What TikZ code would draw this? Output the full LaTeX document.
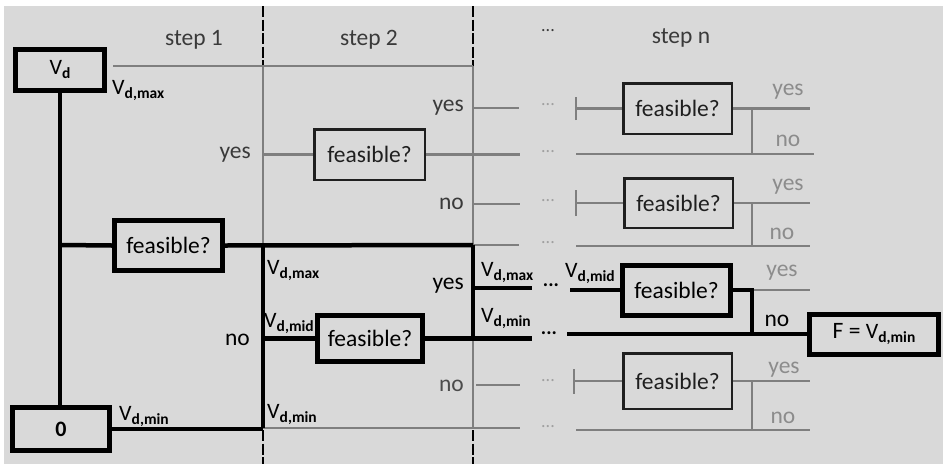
\documentclass[tikz,border=0pt]{standalone}
\usepackage{fontspec}
\setmainfont{Carlito}
\definecolor{bg}{HTML}{D9D9D9}
\definecolor{ln}{HTML}{7F7F7F}
\definecolor{lbl}{HTML}{8C8C8C}
\definecolor{dk}{HTML}{3A3A3A}
\definecolor{dotc}{HTML}{A0A0A0}
% V with a bold subscript, e.g. V_{d,max}
\newcommand{\Vs}[1]{{\fontsize{22}{24}\selectfont V}\raisebox{-4pt}{\fontsize{15.5}{16}\selectfont\bfseries #1}}
\tikzset{
  every node/.style={font=\fontsize{23.5}{26}\selectfont, inner sep=0pt},
  boldbox/.style={draw=black, line width=5pt, fill=bg, text=black},
  thinbox/.style={draw=black!88, line width=2.5pt, fill=bg, text=black!88},
  blk/.style={draw=black, line width=4.5pt},
  gl/.style={draw=ln, line width=2.5pt},
  dsh/.style={draw=black, line width=1.6pt, dash pattern=on 11pt off 2.5pt},
  hdr/.style={text=dk},
  lab/.style={text=dk, anchor=east},
  labn/.style={text=lbl},
  vlab/.style={text=black, anchor=base west},
  gdots/.style={text=dotc, font=\fontsize{18}{20}\selectfont},
  bdots/.style={text=black, font=\fontsize{20}{22}\selectfont\bfseries},
}
\begin{document}
\begin{tikzpicture}[x=1pt,y=-1pt]
\useasboundingbox (0,0) rectangle (943,464);
\fill[bg] (4,6) rectangle (943,464);

% column headers
\node[hdr] (s1) at (194,40) {step 1};
\node[hdr] (s2) at (369,40) {step 2};
\node[hdr] (sn) at (681,38) {step n};
\node[hdr, font=\fontsize{18}{20}\selectfont] (sdots) at (548,31) {...};

% value labels (drawn first so boxes may cover them)
\node[vlab] (l1) at (112,94) {\Vs{d,max}};
\node[vlab] (l2) at (119,420) {\Vs{d,min}};
\node[vlab] (l3) at (267,274) {\Vs{d,max}};
\node[vlab] (l4) at (264,327) {\Vs{d,mid}};
\node[vlab] (l5) at (267,418) {\Vs{d,min}};
\node[vlab] (l6) at (481,276) {\Vs{d,max}};
\node[vlab] (l7) at (481,322) {\Vs{d,min}};
\node[vlab] (l8) at (565,277) {\Vs{d,mid}};

% branch labels
\node[lab] (y1) at (251,155) {yes};
\node[lab] (y2) at (464,108) {yes};
\node[lab] (n2) at (464,204) {no};
\node[lab, text=black] (y3) at (464,286) {yes};
\node[lab, text=black] (n1) at (250,340) {no};
\node[lab, text=black!70] (n3) at (464,386) {no};
\node[text=black] (n4) at (777,321) {no};
\node[labn] (yn1) at (788,92) {yes};
\node[labn] (nn1) at (788,141) {no};
\node[labn] (yn2) at (788,187) {yes};
\node[labn] (nn2) at (782,234) {no};
\node[labn] (yn3) at (782,273) {yes};
\node[labn] (yn4) at (784,370) {yes};
\node[labn] (nn4) at (783,418) {no};

% boxes
\node[boldbox, minimum width=89pt, minimum height=41pt] (vd) at (60,69.5) {\Vs{d}};
\node[boldbox, minimum width=97pt, minimum height=43pt] (zero) at (61,429) {\fontsize{22}{24}\selectfont\bfseries 0};
\node[boldbox, minimum width=108pt, minimum height=50pt] (f1) at (168.5,245.5) {feasible?};
\node[thinbox, minimum width=110.5pt, minimum height=50.5pt] (f2a) at (369.5,154.5) {feasible?};
\node[boldbox, minimum width=105pt, minimum height=46pt] (f2b) at (370,338.5) {feasible?};
\node[thinbox, minimum width=108.5pt, minimum height=50.5pt] (fn1) at (677.5,108.5) {feasible?};
\node[thinbox, minimum width=108.5pt, minimum height=49.5pt] (fn2) at (678.5,203) {feasible?};
\node[boldbox, minimum width=108pt, minimum height=50pt] (fn3) at (676.5,290) {feasible?};
\node[thinbox, minimum width=108.5pt, minimum height=55.5pt] (fn4) at (677.5,381) {feasible?};
\node[boldbox, minimum width=129pt, minimum height=40pt] (F) at (874,334) {F = \Vs{d,min}};

% grid junctions
\coordinate (a8) at (263,6);   \coordinate (a9) at (473,6);
\coordinate (a1) at (263,66);  \coordinate (a2) at (473,66);
\coordinate (a3) at (263,245); \coordinate (a4) at (473,245);
\coordinate (a5) at (263,428); \coordinate (a6) at (473,428);
\coordinate (a10) at (263,464); \coordinate (a11) at (473,464);
\coordinate (b1) at (61,245);

% column separators
\draw[dsh] (a8) -- (a1);
\draw[dsh] (a9) -- (a2);
\draw[dsh] ([yshift=-2pt]a5) -- (a10);
\draw[dsh] ([yshift=-2pt]a6) -- (a11);

% grey (not taken) paths
\coordinate (t1) at (519,108);
\coordinate (t2) at (520,204);
\coordinate (t3) at (519,245);
\coordinate (t4) at (520,385);
\coordinate (t5) at (520,428);
\coordinate (r2) at (520,154.5);
\draw[gl] ([xshift=6pt]vd.east |- a1) -- (a2);
\draw[gl] (a1) -- (a3);
\draw[gl] (a2) -- (a6);
\draw[gl] (a1 |- f2a.west) -- (f2a.west);
\draw[gl] (f2a.east) -- (r2);
\draw[gl] (a2 |- t1) -- (t1);
\draw[gl] (a2 |- t2) -- (t2);
\draw[gl] (a4) -- (t3);
\draw[gl] ([xshift=3pt]a2 |- t4) -- (t4);
\draw[gl] (a5) -- (t5);

% grey dots
\foreach \yy in {108,154.5,204,246,384,430}
  \node[gdots] at (548,\yy-3) {...};

% step n, grey branches
\coordinate (k1) at (752,334);
\coordinate (p1) at (576,108.5); \coordinate (q1) at (810,108.5); \coordinate (m1) at (814,154);
\coordinate (p2) at (576,203);   \coordinate (q2) at (810,203);   \coordinate (m2) at (810,246);
\coordinate (p4) at (574,381);   \coordinate (q4) at (810,381);   \coordinate (m4) at (810,430);
\coordinate (q3) at (810,290);
\draw[gl] ([yshift=-11.5pt]p1) -- ([yshift=11.5pt]p1);
\draw[gl] (p1) -- (fn1.west);
\draw[gl] (fn1.east) -- (q1);
\draw[gl] (k1 |- fn1.east) -- (k1 |- m1);
\draw[gl] (p1 |- m1) -- (m1);
\draw[gl] ([yshift=-13pt]p2) -- ([yshift=13pt]p2);
\draw[gl] (p2) -- (fn2.west);
\draw[gl] (fn2.east) -- (q2);
\draw[gl] (k1 |- fn2.east) -- (k1 |- m2);
\draw[gl] (p2 |- m2) -- (m2);
\draw[gl] ([yshift=-12.5pt]p4) -- ([yshift=12.5pt]p4);
\draw[gl] (p4) -- (fn4.west);
\draw[gl] (fn4.east) -- (q4);
\draw[gl] (k1 |- fn4.east) -- (k1 |- m4);
\draw[gl] (p1 |- m4) -- (m4);
\draw[gl] (k1 |- fn3.east) -- (q3);

% black (taken) path
\coordinate (u1) at (532,288);
\coordinate (u2) at (532,338.5);
\coordinate (v1) at (570,290);
\coordinate (v2) at (567,334);
\draw[blk] (vd.south) -- (vd.south |- zero.north);
\draw[blk] (b1) -- (f1.west);
\draw[blk] (f1.east) -- (a4);
\draw[blk] (zero.east) -- (zero.east -| a5);
\draw[blk] (a3) -- (a5);
\draw[blk] (a3 |- f2b.west) -- (f2b.west);
\draw[blk] (f2b.east) -- (u2);
\draw[blk] (a4) -- (a4 |- u2);
\draw[blk] (a4 |- u1) -- (u1);
\draw[blk] (v1) -- (fn3.west);
\draw[blk] (fn3.east) -| (k1);
\draw[blk] (v2) -- (F.west);
\node[bdots] at (551,285) {...};
\node[bdots] at (549,333) {...};
\end{tikzpicture}
\end{document}
